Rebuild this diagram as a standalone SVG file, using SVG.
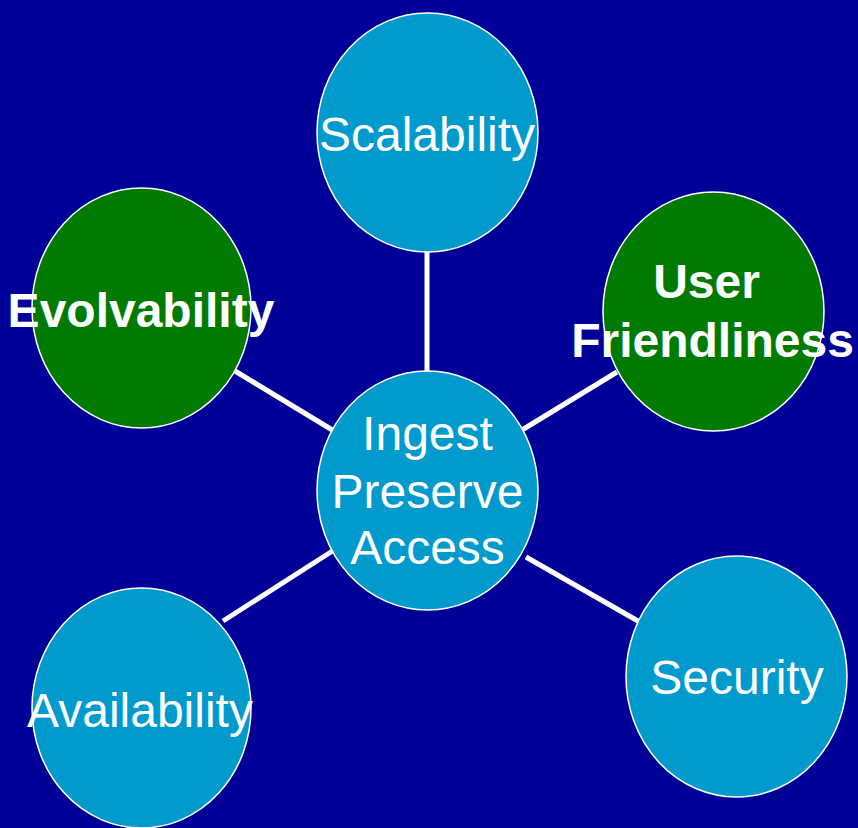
<svg xmlns="http://www.w3.org/2000/svg" width="858" height="828" viewBox="0 0 858 828">
<style>
.bg{fill:#000099}
.node{stroke:#ffffff;stroke-width:1.5}
.blue{fill:#009ACC}
.green{fill:#007A00}
.conn line{stroke:#ffffff;stroke-width:5}
text{font-family:"Liberation Sans",Arial,sans-serif;fill:#ffffff;text-anchor:middle;font-size:48px}
.b{font-weight:bold}
</style>
<rect class="bg" x="0" y="0" width="858" height="828"/>
<g id="connectors" class="conn">
<line x1="427" y1="252" x2="427" y2="372"/>
<line x1="235" y1="371" x2="334" y2="431"/>
<line x1="617" y1="372" x2="522" y2="430"/>
<line x1="223" y1="621" x2="334" y2="550"/>
<line x1="526" y1="557" x2="638" y2="621"/>
</g>
<g id="scalability">
<ellipse class="node blue" cx="427.5" cy="132.5" rx="110.5" ry="119.5"/>
<text x="427" y="151">Scalability</text>
</g>
<g id="evolvability">
<ellipse class="node green" cx="141.5" cy="308" rx="109.5" ry="120"/>
<text class="b" x="141" y="327">Evolvability</text>
</g>
<g id="user-friendliness">
<ellipse class="node green" cx="713.5" cy="311.5" rx="110.5" ry="119.5"/>
<text class="b" x="706.5" y="298">User</text>
<text class="b" x="712.5" y="357">Friendliness</text>
</g>
<g id="center">
<ellipse class="node blue" cx="427.5" cy="490.5" rx="110.5" ry="119.5"/>
<text x="427.5" y="450">Ingest</text>
<text x="427.5" y="508">Preserve</text>
<text x="427.5" y="564">Access</text>
</g>
<g id="availability">
<ellipse class="node blue" cx="141.5" cy="708" rx="109.5" ry="120"/>
<text x="140" y="727">Availability</text>
</g>
<g id="security">
<ellipse class="node blue" cx="736.5" cy="676.5" rx="110.5" ry="120.5"/>
<text x="737" y="694">Security</text>
</g>
</svg>
